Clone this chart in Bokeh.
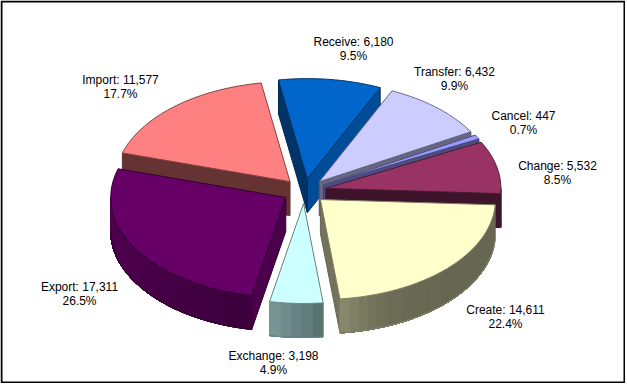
import math
from bokeh.plotting import figure
from bokeh.models import Range1d
from bokeh.core.properties import value
from bokeh.embed import file_html
from bokeh.resources import INLINE

# --- data (clockwise from the pie's starting angle) ---
categories = ["Receive", "Transfer", "Cancel", "Change", "Create", "Exchange", "Export", "Import"]
values = [6180, 6432, 447, 5532, 14611, 3198, 17311, 11577]

# --- style ---
colors = ["#0066CC", "#CCCCFF", "#9999FF", "#993366", "#FFFFCC", "#CCFFFF", "#660066", "#FF8080"]
start_wall_shade = [0.5, 0, 0, 0, 0, 0, 0.75, 0.4]
end_wall_shade = [0.75, 0.5, 0.5, 0.4, 0.45, 0, 0, 0]
# outer-wall shading: factor at slice start, at slice end, and how late the change happens
arc_shade = [(.5, .5, 1), (.5, .5, 1), (.5, .5, 1), (.4, .4, 1), (.4, .55, 7), (.43, .6, 1), (.58, .85, 1), (.4, .4, 1)]
draw_order = [7, 0, 1, 2, 3, 6, 4, 5]
label_pos = [(353, 41), (454, 71), (523, 115), (557, 165), (505, 309), (273, 355), (79, 286), (120, 79)]

W, H = 625, 383
CX, CY, A, B, DEPTH, EXPLODE, START = 304, 190.5, 175, 100, 34, 0.125, -9.5

def rgb(c):
    return tuple(int(c[i:i + 2], 16) for i in (1, 3, 5))

def shade(c, f):
    return "#%02x%02x%02x" % tuple(round(v * f) for v in rgb(c))

total = sum(values)
p = figure(width=W, height=H, x_range=Range1d(0, W), y_range=Range1d(H, 0),
           toolbar_location=None, output_backend="svg", min_border=0,
           outline_line_color=None, background_fill_color="white",
           border_fill_color="white")
p.xaxis.visible = False
p.yaxis.visible = False
p.grid.visible = False
p.styles = {"position": "absolute", "left": "0px", "top": "0px"}

# slice angle ranges
angles = []
t = START
for v in values:
    sweep = 360 * v / total
    angles.append((t, t + sweep))
    t += sweep

xs, ys, fills, lines = [], [], [], []

def add(px, py, fill, line=None):
    xs.append(px)
    ys.append(py)
    fills.append(fill)
    lines.append(line if line else fill)

def pt(ax, ay, deg):
    r = math.radians(deg)
    return ax + A * math.sin(r), ay - B * math.cos(r)

for i in draw_order:
    t0, t1 = angles[i]
    c = colors[i]
    edge = shade(c, 0.5)
    mid = math.radians((t0 + t1) / 2)
    ax = CX + EXPLODE * A * math.sin(mid)
    ay = CY - EXPLODE * B * math.cos(mid)
    # radial walls
    for deg, f in ((t0, start_wall_shade[i]), (t1, end_wall_shade[i])):
        if f:
            ex, ey = pt(ax, ay, deg)
            add([ax, ex, ex, ax], [ay, ey, ey + DEPTH, ay + DEPTH], shade(c, f), shade(c, min(f, 0.4)))
    # outer wall: shaded strips on the part facing the viewer
    a0, a1 = max(t0, 90), min(t1, 270)
    if a1 > a0:
        n = max(2, int((a1 - a0) / 3))
        arc = [pt(ax, ay, a0 + (a1 - a0) * k / n) for k in range(n + 1)]
        f0, f1, power = arc_shade[i]
        for k in range(n):
            s = a0 + (a1 - a0) * (k + 0.5) / n
            u = (s - t0) / (t1 - t0)
            # each strip reaches to the wall's end; later strips paint over it, so no seams show
            rest = arc[k:]
            add([q[0] for q in rest] + [q[0] for q in reversed(rest)],
                [q[1] for q in rest] + [q[1] + DEPTH for q in reversed(rest)],
                shade(c, f0 + (f1 - f0) * u ** power),
                shade(c, f0 + (f1 - f0) * u ** power))
        # bottom edge of the outer wall
        add([q[0] for q in arc] + [q[0] for q in reversed(arc)],
            [q[1] + DEPTH for q in arc] + [q[1] + DEPTH for q in reversed(arc)],
            edge, edge)
    # top face
    arc = [pt(ax, ay, t0 + (t1 - t0) * k / 60) for k in range(61)]
    add([ax] + [q[0] for q in arc], [ay] + [q[1] for q in arc], c, edge)

p.patches(xs, ys, fill_color=fills, line_color=lines, line_width=1, fill_alpha=1, line_alpha=1)

# chart border
p.quad(left=[1], right=[W - 1], top=[1], bottom=[H - 1], fill_color=None,
       line_color="black", line_width=2)

# labels
for name, v, (lx, ly) in zip(categories, values, label_pos):
    for txt, yy in ((f"{name}: {v:,}", ly), (f"{100 * v / total:.1f}%", ly + 14)):
        p.text([lx], [yy], text=[txt], text_font=value("Liberation Sans"),
               text_font_size="12px", text_color="black", text_align="center",
               text_baseline="middle")

open("out.html", "w").write(file_html(p, INLINE))
